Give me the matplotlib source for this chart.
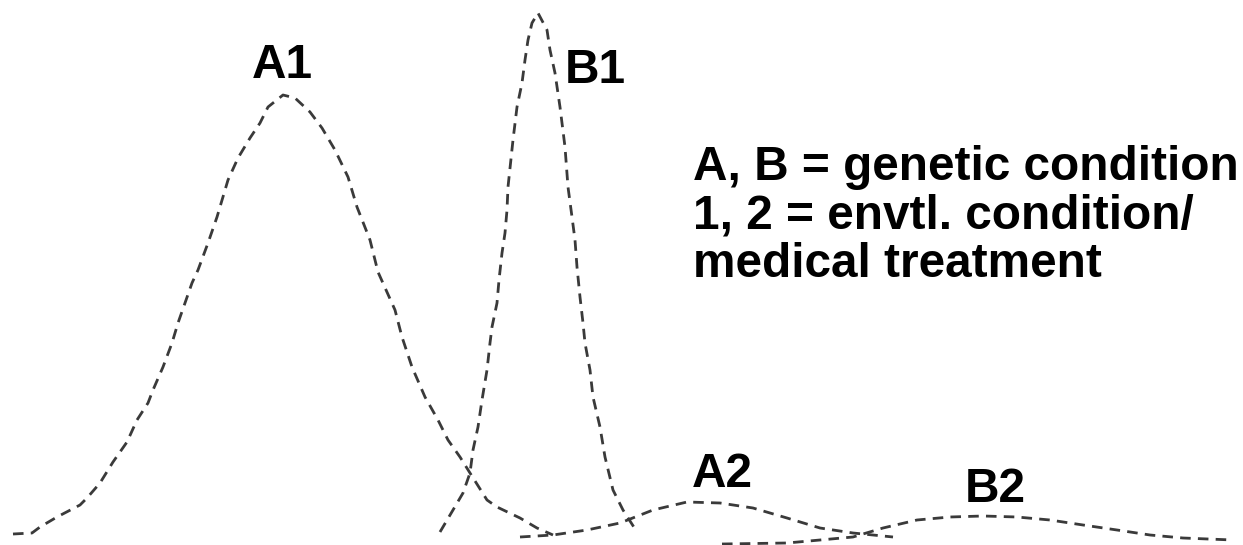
import matplotlib
matplotlib.use('Agg')
import matplotlib.pyplot as plt

# curves, in image pixel units (y grows downwards)
a1_x = [13, 32, 40, 57, 80, 87, 100, 113, 127, 137, 148, 153, 163, 172, 178, 185, 192,
        198, 208, 217, 228, 238, 250, 260, 268, 283, 295, 310, 322, 335, 348, 357,
        370, 378, 395, 402, 412, 425, 438, 448, 460, 470, 487, 497, 520, 537, 553]
a1_y = [534, 533, 527, 517, 505, 498, 483, 462, 442, 420, 403, 390, 367, 343, 323, 303, 283,
        270, 243, 217, 180, 158, 138, 123, 107, 95, 98, 112, 128, 150, 177, 207,
        240, 272, 310, 337, 367, 397, 420, 440, 457, 473, 500, 507, 518, 528, 535]

b1_x = [440, 453, 463, 470, 473, 478, 482, 487, 490, 492, 497, 499, 502, 505, 507, 508,
        513, 517, 522, 525, 528, 532, 538, 547, 550, 555, 560, 565, 568, 572, 575,
        577, 580, 583, 585, 590, 593, 600, 605, 613, 623, 637]
b1_y = [532, 510, 493, 473, 450, 427, 400, 370, 343, 327, 303, 280, 253, 233, 210, 187,
        140, 107, 83, 60, 40, 23, 13, 30, 50, 73, 107, 147, 187, 217, 240,
        267, 297, 323, 343, 370, 397, 427, 457, 490, 510, 532]

a2_x = [520, 553, 587, 620, 653, 687, 720, 753, 787, 820, 853, 893]
a2_y = [537, 535, 530, 523, 510, 502, 503, 508, 518, 528, 533, 537]

b2_x = [722, 787, 853, 883, 917, 950, 983, 1017, 1050, 1083, 1117, 1150, 1183, 1233]
b2_y = [544, 543, 537, 528, 520, 517, 516, 517, 520, 525, 530, 535, 538, 540]

curve_labels = ['A1', 'B1', 'A2', 'B2']
label_pos = [(252, 78), (565, 83), (692, 487), (965, 502)]

legend_lines = ['A, B = genetic condition',
                '1, 2 = envtl. condition/',
                'medical treatment']
legend_baselines = [180, 229, 277]

fig = plt.figure(figsize=(12.43, 5.45), dpi=100)
ax = fig.add_axes([0, 0, 1, 1])
ax.set_xlim(0, 1243)
ax.set_ylim(545, 0)
ax.axis('off')

style = dict(color='#3a3a3a', linewidth=2.0, linestyle=(0, (3.8, 2.6)))
for xs, ys in [(a1_x, a1_y), (b1_x, b1_y), (a2_x, a2_y), (b2_x, b2_y)]:
    ax.plot(xs, ys, **style)

font = dict(family=['Liberation Sans', 'DejaVu Sans'], fontweight='bold', fontsize=34.4)
for lab, (x, y) in zip(curve_labels, label_pos):
    ax.text(x, y, lab, ha='left', va='baseline', **font)
for line, y in zip(legend_lines, legend_baselines):
    ax.text(693, y, line, ha='left', va='baseline', **font)

fig.savefig('out.png', dpi=100)
